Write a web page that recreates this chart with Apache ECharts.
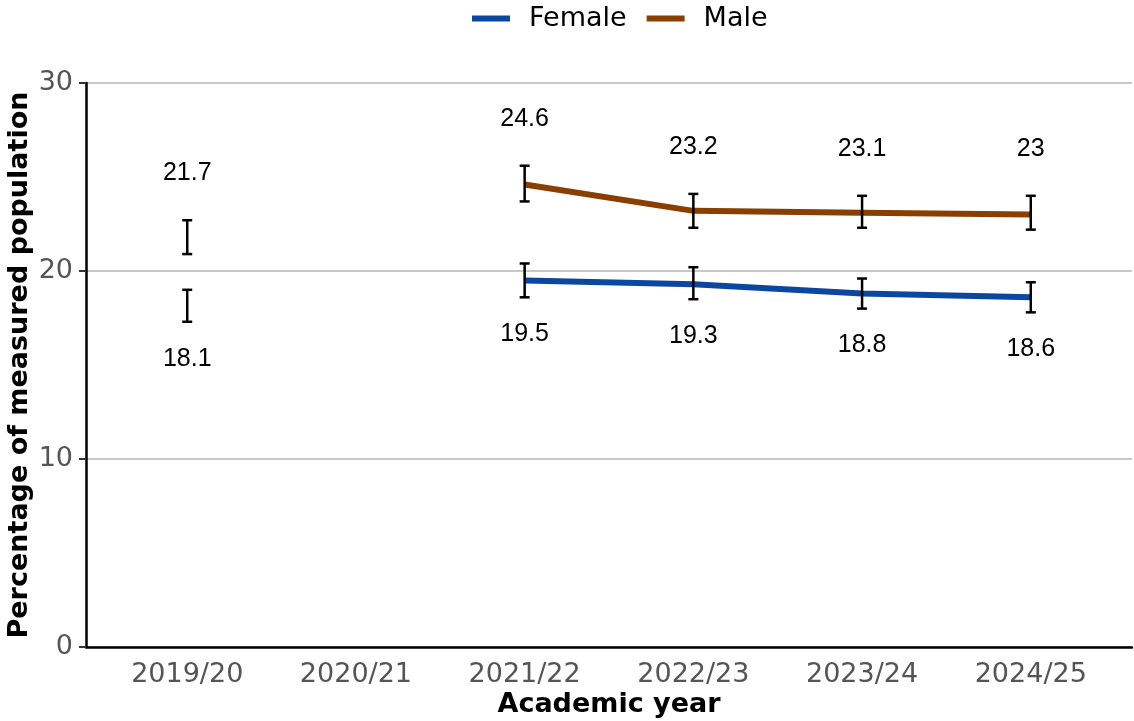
<!DOCTYPE html>
<html>
<head>
<meta charset="utf-8">
<script src="https://cdn.jsdelivr.net/npm/echarts@6/dist/echarts.min.js"></script>
<style>
html,body{margin:0;padding:0;background:#fff;}
#chart{width:1134px;height:721px;}
</style>
</head>
<body>
<div id="chart"></div>
<script>
const categories = ['2019/20', '2020/21', '2021/22', '2022/23', '2023/24', '2024/25'];
const female = [18.1, null, 19.5, 19.3, 18.8, 18.6];
const male = [21.7, null, 24.6, 23.2, 23.1, 23.0];
const femaleLower = [17.3, null, 18.6, 18.5, 18.0, 17.8];
const femaleUpper = [19.0, null, 20.4, 20.2, 19.6, 19.4];
const maleLower = [20.9, null, 23.7, 22.3, 22.3, 22.2];
const maleUpper = [22.7, null, 25.6, 24.1, 24.0, 24.0];
const yTicks = [0, 10, 20, 30];

const FONT = 'DejaVu Sans';
const COL_F = '#0B47A1';
const COL_M = '#8A3F00';

function pts(vals) {
  return vals.map((v, i) => [i, v === null ? '-' : v]);
}
function errData(vals, lo, hi) {
  const out = [];
  vals.forEach((v, i) => { if (v !== null) out.push([i, lo[i], hi[i], v]); });
  return out;
}

function makeErr(isMale) {
  return function (params, api) {
    const x = api.value(0);
    const pLo = api.coord([x, api.value(1)]);
    const pHi = api.coord([x, api.value(2)]);
    const v = api.value(3);
    const cap = 5;
    const ls = { stroke: '#000', lineWidth: 2.5 };
    const children = [
      { type: 'line', shape: { x1: pLo[0], y1: pLo[1], x2: pHi[0], y2: pHi[1] }, style: ls },
      { type: 'line', shape: { x1: pLo[0] - cap, y1: pLo[1], x2: pLo[0] + cap, y2: pLo[1] }, style: ls },
      { type: 'line', shape: { x1: pHi[0] - cap, y1: pHi[1], x2: pHi[0] + cap, y2: pHi[1] }, style: ls },
      {
        type: 'text',
        x: pHi[0],
        y: isMale ? pHi[1] - 47 : pLo[1] + 37,
        style: {
          text: String(v),
          fill: '#000',
          font: '25px "Liberation Sans", Arial, sans-serif',
          align: 'center',
          verticalAlign: 'middle'
        }
      }
    ];
    return { type: 'group', children: children };
  };
}

const chart = echarts.init(document.getElementById('chart'), null, { renderer: 'canvas' });
chart.setOption({
  animation: false,
  backgroundColor: '#fff',
  textStyle: { fontFamily: FONT },
  legend: {
    data: ['Female', 'Male'],
    left: 467,
    top: 0,
    icon: 'rect',
    itemWidth: 38,
    itemHeight: 6,
    itemGap: 20,
    textStyle: { fontFamily: FONT, fontSize: 27, color: '#000', padding: [0, 0, 0, 14] }
  },
  grid: { left: 86, right: 2, top: 83, bottom: 74, containLabel: false, outerBoundsMode: 'none' },
  xAxis: {
    type: 'value',
    min: -0.6,
    max: 5.6,
    name: 'Academic year',
    nameLocation: 'middle',
    nameGap: 44,
    nameMoveOverlap: false,
    nameTextStyle: { fontFamily: FONT, fontSize: 27, fontWeight: 'bold', color: '#000' },
    axisLine: { show: true, onZero: false, lineStyle: { color: '#000', width: 2.5 } },
    axisTick: { show: false },
    splitLine: { show: false },
    axisLabel: {
      customValues: categories.map((c, i) => i),
      formatter: v => categories[Math.round(v)] || '',
      fontFamily: FONT,
      fontSize: 27,
      color: '#555',
      margin: 14
    }
  },
  yAxis: {
    type: 'value',
    min: yTicks[0],
    max: yTicks[yTicks.length - 1],
    interval: 10,
    name: 'Percentage of measured population',
    nameLocation: 'middle',
    nameGap: 53,
    nameMoveOverlap: false,
    nameTextStyle: { fontFamily: FONT, fontSize: 27, fontWeight: 'bold', color: '#000' },
    axisLine: { show: true, onZero: false, lineStyle: { color: '#000', width: 2.5 } },
    axisTick: { show: true, length: 7, lineStyle: { color: '#333', width: 2 } },
    splitLine: { show: true, lineStyle: { color: '#c8c8c8', width: 2 } },
    axisLabel: { fontFamily: FONT, fontSize: 27, color: '#555', margin: 13 }
  },
  series: [
    {
      name: 'Female', type: 'line', data: pts(female), showSymbol: false, symbol: 'none',
      connectNulls: false, color: COL_F, lineStyle: { color: COL_F, width: 6 }, z: 2
    },
    {
      name: 'Male', type: 'line', data: pts(male), showSymbol: false, symbol: 'none',
      connectNulls: false, color: COL_M, lineStyle: { color: COL_M, width: 6 }, z: 2
    },
    {
      name: 'FemaleErr', type: 'custom', renderItem: makeErr(false),
      data: errData(female, femaleLower, femaleUpper), z: 5, clip: false
    },
    {
      name: 'MaleErr', type: 'custom', renderItem: makeErr(true),
      data: errData(male, maleLower, maleUpper), z: 5, clip: false
    }
  ]
});
</script>
</body>
</html>
